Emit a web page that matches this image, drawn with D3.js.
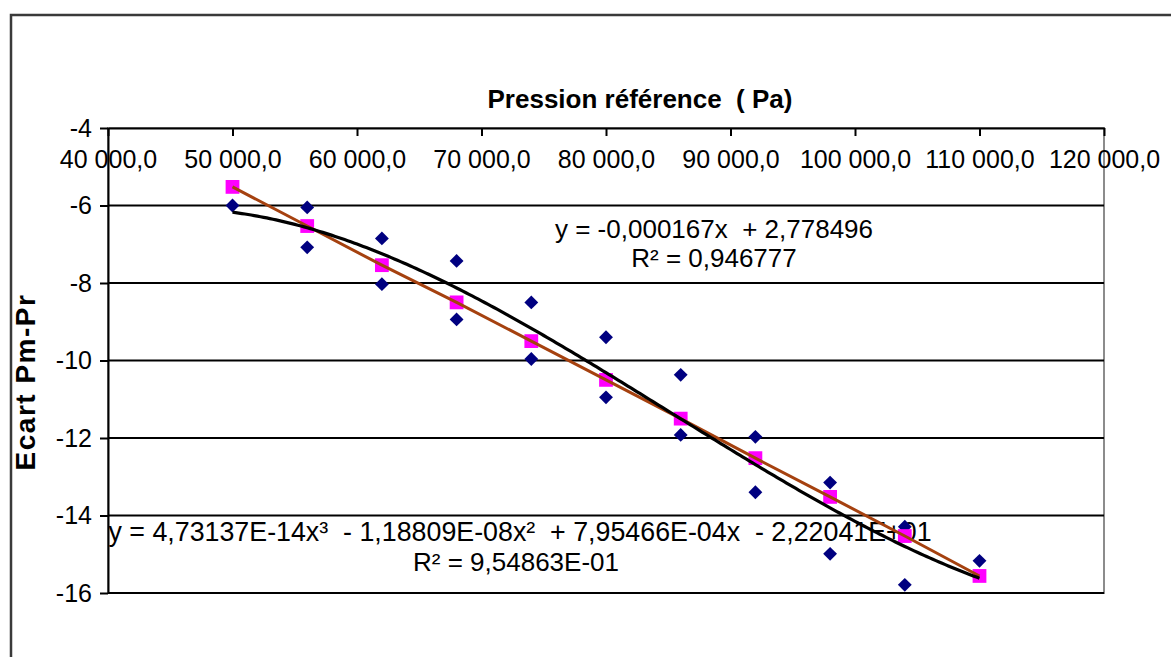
<!DOCTYPE html>
<html><head><meta charset="utf-8">
<script src="https://cdn.jsdelivr.net/npm/d3@7"></script>
<style>
html,body{margin:0;padding:0;background:#fff;}
svg text{font-family:"Liberation Sans",Arial,sans-serif;white-space:pre;}
</style></head>
<body>
<script>
// ---- data ----
const pressure   = [50000, 56000, 62000, 68000, 74000, 80000, 86000, 92000, 98000, 104000, 110000];
const ecartHaut  = [-6.0, -6.05, -6.85, -7.43, -8.5, -9.4, -10.37, -11.97, -13.15, -14.29, -15.17];
const ecartBas   = [null, -7.08, -8.03, -8.94, -9.96, -10.95, -11.92, -13.4, -14.99, -15.79, null];
const ecartLin   = [-5.52, -6.53, -7.54, -8.5, -9.5, -10.5, -11.5, -12.52, -13.52, -14.53, -15.56];
const xTicks = [40000, 50000, 60000, 70000, 80000, 90000, 100000, 110000, 120000];
const yTicks = [-4, -6, -8, -10, -12, -14, -16];
const xTitle = "Pression référence  ( Pa)";
const yTitle = "Ecart Pm-Pr";
const eqLin  = ["y = -0,000167x  + 2,778496", "R² = 0,946777"];
const eqPoly = ["y = 4,73137E-14x³  - 1,18809E-08x²  + 7,95466E-04x  - 2,22041E+01", "R² = 9,54863E-01"];

const W = 1171, H = 657;
const svg = d3.select("body").append("svg").attr("width", W).attr("height", H);

// outer chart border
svg.append("rect").attr("x", 11).attr("y", 15).attr("width", W + 20).attr("height", H + 20)
  .attr("fill", "none").attr("stroke", "#3a3a3a").attr("stroke-width", 2.5);

const L = 108, R = 1104, T = 128, B = 593;
const x = d3.scaleLinear().domain([40000, 120000]).range([L, R]);
const y = d3.scaleLinear().domain([-16, -4]).range([B, T]);

// plot area border
svg.append("rect").attr("x", L).attr("y", T).attr("width", R - L).attr("height", B - T)
  .attr("fill", "none").attr("stroke", "#8c8c8c").attr("stroke-width", 2);

// gridlines
svg.append("g").selectAll("line").data(yTicks.filter(d => d !== -4)).join("line")
  .attr("x1", L).attr("x2", R).attr("y1", d => y(d)).attr("y2", d => y(d))
  .attr("stroke", "#000").attr("stroke-width", 2);

const fr = d3.formatLocale({decimal: ",", thousands: " ", grouping: [3], currency: ["", " €"]});
const fmt = fr.format(",.1f");

// x axis (at top, y = -4)
const gx = svg.append("g").attr("transform", `translate(0,${T})`)
  .call(d3.axisBottom(x).tickValues(xTicks).tickFormat(fmt).tickSize(8).tickSizeOuter(0).tickPadding(14));
gx.select(".domain").attr("stroke", "#000").attr("stroke-width", 2);
gx.selectAll(".tick line").attr("stroke", "#000").attr("stroke-width", 2);
gx.selectAll(".tick text").attr("font-size", 25).attr("fill", "#000")
  .style("font-family", '"Liberation Sans",Arial,sans-serif');

// y axis
const gy = svg.append("g").attr("transform", `translate(${L},0)`)
  .call(d3.axisLeft(y).tickValues(yTicks).tickFormat(d => String(d)).tickSize(8).tickSizeOuter(0).tickPadding(8));
gy.select(".domain").attr("stroke", "#000").attr("stroke-width", 2);
gy.selectAll(".tick line").attr("stroke", "#000").attr("stroke-width", 2);
gy.selectAll(".tick text").attr("font-size", 25).attr("fill", "#000")
  .style("font-family", '"Liberation Sans",Arial,sans-serif');

// titles
svg.append("text").attr("x", 640).attr("y", 108).attr("text-anchor", "middle")
  .attr("font-size", 26).attr("font-weight", "bold").text(xTitle);
svg.append("text").attr("transform", "translate(35,382) rotate(-90)").attr("text-anchor", "middle")
  .attr("font-size", 28).attr("font-weight", "bold").attr("letter-spacing", 1.5).text(yTitle);

// equation labels
svg.append("text").attr("x", 714).attr("y", 238).attr("text-anchor", "middle").attr("font-size", 26).text(eqLin[0]);
svg.append("text").attr("x", 714).attr("y", 267).attr("text-anchor", "middle").attr("font-size", 26).text(eqLin[1]);
svg.append("text").attr("x", 520).attr("y", 541).attr("text-anchor", "middle").attr("font-size", 26.8).text(eqPoly[0]);
svg.append("text").attr("x", 516).attr("y", 571).attr("text-anchor", "middle").attr("font-size", 26).text(eqPoly[1]);

// blue points
const blue = [];
pressure.forEach((p, i) => {
  if (ecartHaut[i] != null) blue.push([p, ecartHaut[i]]);
  if (ecartBas[i] != null) blue.push([p, ecartBas[i]]);
});
const diamond = d3.symbol().type(d3.symbolSquare).size(96)();
svg.append("g").selectAll("path").data(blue).join("path")
  .attr("d", diamond)
  .attr("transform", d => `translate(${x(d[0])},${y(d[1])}) rotate(45)`)
  .attr("fill", "#000080");

// magenta squares
const sq = d3.symbol().type(d3.symbolSquare).size(190)();
const mag = pressure.map((p, i) => [p, ecartLin[i]]);
svg.append("g").selectAll("path").data(mag).join("path")
  .attr("d", sq).attr("transform", d => `translate(${x(d[0])},${y(d[1])})`)
  .attr("fill", "#ff00ff");

// linear trend (brown) through the magenta values
svg.append("path").datum(mag)
  .attr("d", d3.line().x(d => x(d[0])).y(d => y(d[1])))
  .attr("fill", "none").attr("stroke", "#a5410f").attr("stroke-width", 3);

// cubic least-squares trend of the blue points
function polyFit(pts, deg) {
  const n = deg + 1;
  const A = Array.from({length: n}, () => new Array(n + 1).fill(0));
  pts.forEach(([px, py]) => {
    const t = (px - 80000) / 10000;
    for (let r = 0; r < n; r++) {
      for (let c = 0; c < n; c++) A[r][c] += Math.pow(t, r + c);
      A[r][n] += py * Math.pow(t, r);
    }
  });
  for (let i = 0; i < n; i++) {
    let m = i;
    for (let k = i + 1; k < n; k++) if (Math.abs(A[k][i]) > Math.abs(A[m][i])) m = k;
    [A[i], A[m]] = [A[m], A[i]];
    for (let k = 0; k < n; k++) if (k !== i) {
      const f = A[k][i] / A[i][i];
      for (let c = i; c <= n; c++) A[k][c] -= f * A[i][c];
    }
  }
  const coef = A.map((row, i) => row[n] / row[i]);
  return px => { const t = (px - 80000) / 10000; return coef.reduce((s, c, i) => s + c * Math.pow(t, i), 0); };
}
const cubic = polyFit(blue, 3);
const xs = d3.range(pressure[0], pressure[pressure.length - 1] + 1, 250);
svg.append("path").datum(xs)
  .attr("d", d3.line().x(d => x(d)).y(d => y(cubic(d))))
  .attr("fill", "none").attr("stroke", "#000").attr("stroke-width", 3.2);
</script>
</body></html>
